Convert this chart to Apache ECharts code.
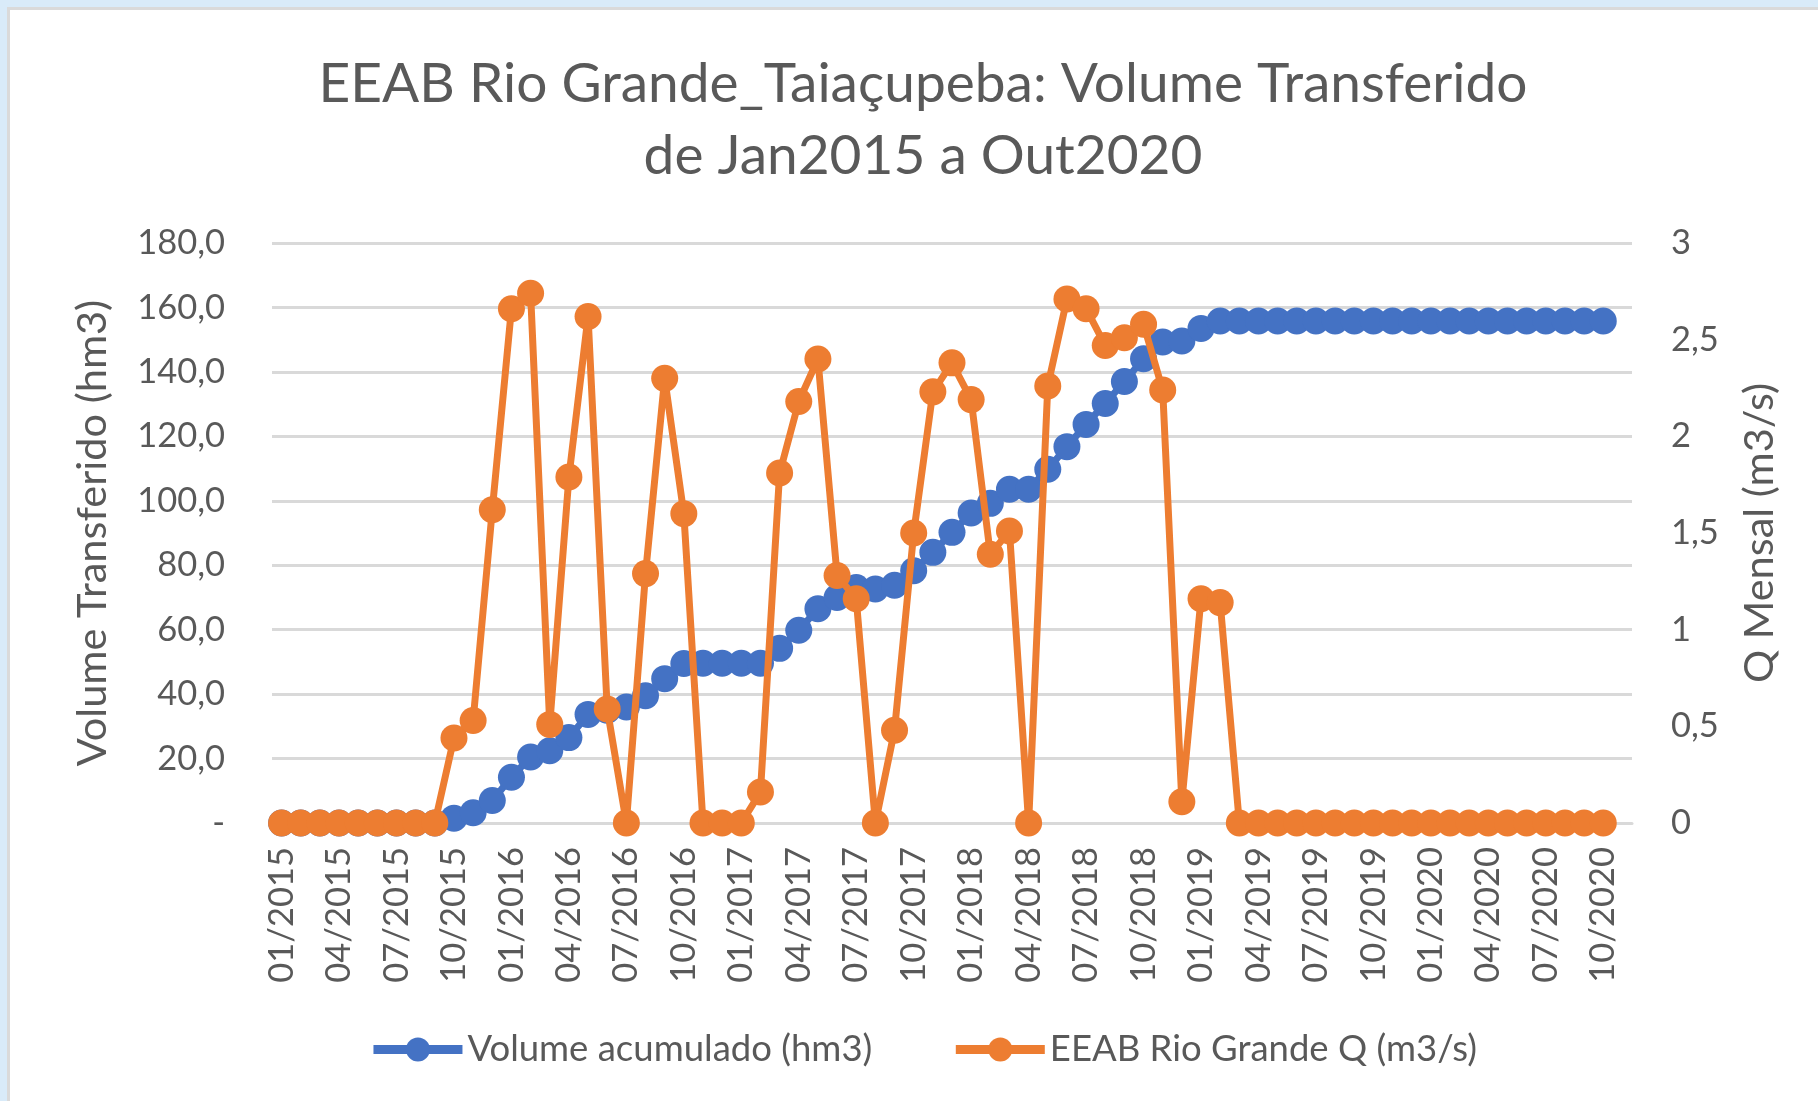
<!DOCTYPE html>
<html>
<head>
<meta charset="utf-8">
<script src="https://cdn.jsdelivr.net/npm/echarts@6/dist/echarts.min.js"></script>
<style>
  html, body { margin: 0; padding: 0; width: 1818px; height: 1101px; overflow: hidden; background: #d9ebf9; }
  #frame { position: absolute; left: 7px; top: 7px; width: 1900px; height: 1200px; background: #dadada; }
  #chart { position: absolute; left: 10px; top: 10px; width: 1826px; height: 1091px; background: #ffffff; }
</style>
</head>
<body>
<div id="frame"></div>
<div id="chart"></div>
<script>
// meses 01/2015 .. 10/2020
const categories = [
    "01/2015", "02/2015", "03/2015", "04/2015", "05/2015", "06/2015", "07/2015", "08/2015", "09/2015", "10/2015", "11/2015", "12/2015",
    "01/2016", "02/2016", "03/2016", "04/2016", "05/2016", "06/2016", "07/2016", "08/2016", "09/2016", "10/2016", "11/2016", "12/2016",
    "01/2017", "02/2017", "03/2017", "04/2017", "05/2017", "06/2017", "07/2017", "08/2017", "09/2017", "10/2017", "11/2017", "12/2017",
    "01/2018", "02/2018", "03/2018", "04/2018", "05/2018", "06/2018", "07/2018", "08/2018", "09/2018", "10/2018", "11/2018", "12/2018",
    "01/2019", "02/2019", "03/2019", "04/2019", "05/2019", "06/2019", "07/2019", "08/2019", "09/2019", "10/2019", "11/2019", "12/2019",
    "01/2020", "02/2020", "03/2020", "04/2020", "05/2020", "06/2020", "07/2020", "08/2020", "09/2020", "10/2020"
];

// Volume acumulado (hm3)
const volumeAcumulado = [
    0, 0, 0, 0, 0, 0, 0, 0, 0, 1.5, 3.2, 7.0,
    14.2, 20.5, 22.4, 26.5, 33.7, 35.0, 36.0, 39.5, 44.8, 49.5, 49.6, 49.6,
    49.6, 49.6, 54.2, 59.8, 66.5, 70.0, 73.1, 72.6, 73.8, 78.3, 84.0, 90.2,
    96.2, 99.2, 103.6, 103.6, 109.8, 116.8, 123.7, 130.2, 137.0, 144.1, 149.3, 149.6,
    153.5, 155.8, 155.8, 155.8, 155.8, 155.8, 155.8, 155.8, 155.8, 155.8, 155.8, 155.8,
    155.8, 155.8, 155.8, 155.8, 155.8, 155.8, 155.8, 155.8, 155.8, 155.8
];

// EEAB Rio Grande Q (m3/s)
const vazaoMensal = [
    0, 0, 0, 0, 0, 0, 0, 0, 0, 0.44, 0.53, 1.62,
    2.66, 2.74, 0.51, 1.79, 2.62, 0.59, 0, 1.29, 2.30, 1.60, 0, 0,
    0, 0.16, 1.81, 2.18, 2.40, 1.28, 1.16, 0, 0.48, 1.50, 2.23, 2.38,
    2.19, 1.39, 1.51, 0, 2.26, 2.71, 2.66, 2.47, 2.51, 2.58, 2.24, 0.11,
    1.16, 1.14, 0, 0, 0, 0, 0, 0, 0, 0, 0, 0,
    0, 0, 0, 0, 0, 0, 0, 0, 0, 0
];

const seriesNames = ["Volume acumulado (hm3)", "EEAB Rio Grande Q (m3/s)"];

const fonte = "Lato";
const cinza = "#595959";

const chart = echarts.init(document.getElementById("chart"));
const option = {
    animation: false,
    textStyle: { fontFamily: fonte },
    title: {
        text: "EEAB Rio Grande_Taiaçupeba: Volume Transferido\nde Jan2015 a Out2020",
        left: "center",
        top: 33,
        textStyle: {
            fontFamily: fonte,
            fontSize: 55,
            fontWeight: "normal",
            color: cinza,
            lineHeight: 72
        }
    },
    legend: {
        bottom: 28,
        left: "center",
        itemWidth: 89,
        itemHeight: 30,
        itemGap: 79,
        lineStyle: { width: 9 },
        textStyle: { fontFamily: fonte, fontSize: 36.5, color: cinza },
        data: seriesNames
    },
    grid: {
        left: 262,
        top: 233,
        width: 1360,
        height: 580
    },
    xAxis: {
        type: "category",
        data: categories,
        max: 70,
        boundaryGap: true,
        axisLine: { show: true, lineStyle: { color: "#d9d9d9", width: 3 } },
        axisTick: { show: false },
        axisLabel: {
            interval: 2,
            rotate: 90,
            margin: 24,
            fontFamily: fonte,
            fontSize: 34.5,
            color: cinza
        }
    },
    yAxis: [
        {
            type: "value",
            min: 0,
            max: 180,
            interval: 20,
            name: "Volume Transferido (hm3)",
            nameLocation: "middle",
            nameRotate: 90,
            nameGap: 158,
            nameTextStyle: { fontFamily: fonte, fontSize: 41.5, color: cinza },
            axisLine: { show: false },
            axisTick: { show: false },
            axisLabel: {
                margin: 47,
                fontFamily: fonte,
                fontSize: 34.5,
                color: cinza,
                formatter: function (v) {
                    return v === 0 ? "-" : v.toFixed(1).replace(".", ",");
                }
            },
            splitLine: { lineStyle: { color: "#d9d9d9", width: 3 } }
        },
        {
            type: "value",
            min: 0,
            max: 3,
            interval: 0.5,
            position: "right",
            name: "Q Mensal (m3/s)",
            nameLocation: "middle",
            nameRotate: 90,
            nameGap: 107,
            nameTextStyle: { fontFamily: fonte, fontSize: 41.5, color: cinza },
            axisLine: { show: false },
            axisTick: { show: false },
            axisLabel: {
                margin: 39,
                fontFamily: fonte,
                fontSize: 34.5,
                color: cinza,
                formatter: function (v) {
                    return String(v).replace(".", ",");
                }
            },
            splitLine: { show: false }
        }
    ],
    series: [
        {
            name: seriesNames[0],
            type: "line",
            yAxisIndex: 0,
            data: volumeAcumulado,
            symbol: "circle",
            symbolSize: 27,
            showAllSymbol: true,
            itemStyle: { color: "#4472c4" },
            lineStyle: { color: "#4472c4", width: 7 },
            z: 2
        },
        {
            name: seriesNames[1],
            type: "line",
            yAxisIndex: 1,
            data: vazaoMensal,
            symbol: "circle",
            symbolSize: 27,
            showAllSymbol: true,
            itemStyle: { color: "#ed7d31" },
            lineStyle: { color: "#ed7d31", width: 7 },
            z: 3
        }
    ]
};
chart.setOption(option);
</script>
</body>
</html>
